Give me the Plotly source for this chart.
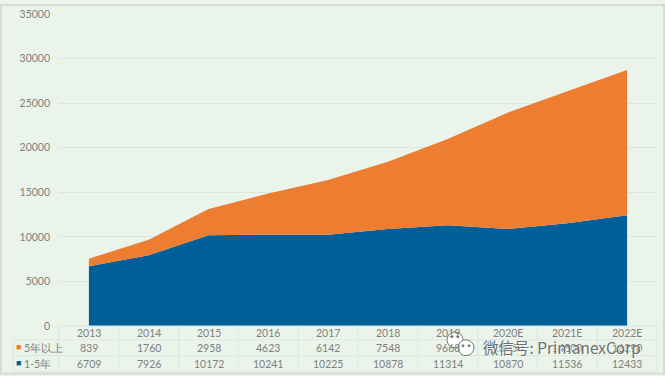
import plotly.graph_objects as go

years = ["2013", "2014", "2015", "2016", "2017", "2018", "2019", "2020E", "2021E", "2022E"]
over5 = [839, 1760, 2958, 4623, 6142, 7548, 9668, 13050, 14800, 16290]
one5 = [6709, 7926, 10172, 10241, 10225, 10878, 11314, 10870, 11536, 12433]
over5_name = "5年以上"
one5_name = "1-5年"
y_ticks = [0, 5000, 10000, 15000, 20000, 25000, 30000, 35000]
BG = "#ebf4ea"; ORANGE = "#ed7d31"; BLUE = "#005f99"; TXT = "#808080"; GRID = "#dde7dc"; FONT = "Lato"
W, H = 665, 376
L, R, T, B = 59, 8, 10, 50

fig = go.Figure()
fig.add_trace(go.Scatter(x=years, y=one5, name=one5_name, stackgroup="a", mode="none", fillcolor=BLUE, hoverinfo="skip"))
fig.add_trace(go.Scatter(x=years, y=over5, name=over5_name, stackgroup="a", mode="none", fillcolor=ORANGE, hoverinfo="skip"))

PW, PH = W - L - R, H - B - T
def fx(px):
    return (px - L) / PW
def fy(py):
    return (H - B - py) / PH

shapes = []
anns = []
for yy in [326, 340, 356, 372]:
    shapes.append(dict(type="line", xref="paper", yref="paper", x0=fx(L if yy == 326 else 13), x1=1,
                       y0=fy(yy), y1=fy(yy), line=dict(color=GRID, width=1)))
for i in range(11):
    shapes.append(dict(type="line", xref="paper", yref="paper", x0=i / 10, x1=i / 10,
                       y0=fy(372), y1=0, line=dict(color=GRID, width=1)))
shapes.append(dict(type="line", xref="paper", yref="paper", x0=fx(13), x1=fx(13),
                   y0=fy(372), y1=fy(340), line=dict(color=GRID, width=1)))
# outer picture frame
shapes.append(dict(type="rect", xref="paper", yref="paper", x0=fx(1), x1=fx(W - 1), y0=fy(H - 2), y1=fy(1),
                   line=dict(color="#d9d9d9", width=2)))

def row_text(x, ymid, s, color=TXT, xref="x", anchor="center", size=10.5):
    anns.append(dict(x=x, xref=xref, y=fy(ymid), yref="paper", text=s, showarrow=False,
                     xanchor=anchor, yanchor="middle", font=dict(family=FONT, size=size, color=color)))

for i, yr in enumerate(years):
    row_text(i, 333, yr)
    row_text(i, 348, str(over5[i]))
    row_text(i, 364, str(one5[i]))
row_text(fx(22), 348, over5_name, xref="paper", anchor="left")
row_text(fx(22), 364, one5_name, xref="paper", anchor="left")
row_text(fx(18), 347, "■", color=ORANGE, xref="paper", size=9)
row_text(fx(18), 363, "■", color=BLUE, xref="paper", size=9)

# watermark icon: two bubbles with eyes, then the text on top
def disc(cx, cy, r, fill, edge, w):
    shapes.append(dict(type="circle", xref="paper", yref="paper",
                       x0=fx(cx - r), x1=fx(cx + r), y0=fy(cy + r), y1=fy(cy - r),
                       fillcolor=fill, line=dict(color=edge, width=w), layer="above"))
disc(455, 340, 8, "#ffffff", "#777777", 1)
disc(466, 348, 8, "#ffffff", "#777777", 1)
for cx, cy in [(452, 337), (458, 337), (463, 346), (469, 346)]:
    disc(cx, cy, 1, "#777777", "#777777", 1)
anns.append(dict(x=fx(481), xref="paper", y=fy(347), yref="paper", text="微信号: PrimanexCorp", showarrow=False,
                 xanchor="left", yanchor="middle",
                 font=dict(family="Noto Sans CJK SC", size=15.5, color="#6f6f6f", shadow="1px 1px 1px white")))

fig.update_layout(
    width=W, height=H, margin=dict(l=L, r=R, t=T, b=B), autosize=False,
    paper_bgcolor=BG, plot_bgcolor=BG, showlegend=False, hovermode=False,
    shapes=shapes, annotations=anns,
    xaxis=dict(type="category", range=[-0.5, 9.5], showticklabels=False, showgrid=False, zeroline=False, ticks=""),
    yaxis=dict(range=[0, 35000], tickvals=y_ticks, ticktext=[str(v) for v in y_ticks], gridcolor=GRID, gridwidth=1,
               zeroline=False, ticks="", ticklabelstandoff=8,
               tickfont=dict(family=FONT, size=10.5, color=TXT)),
)
fig.write_html("out.html", config={"displayModeBar": False},
               post_script="document.body.style.margin='0';document.documentElement.style.overflow='hidden';")
